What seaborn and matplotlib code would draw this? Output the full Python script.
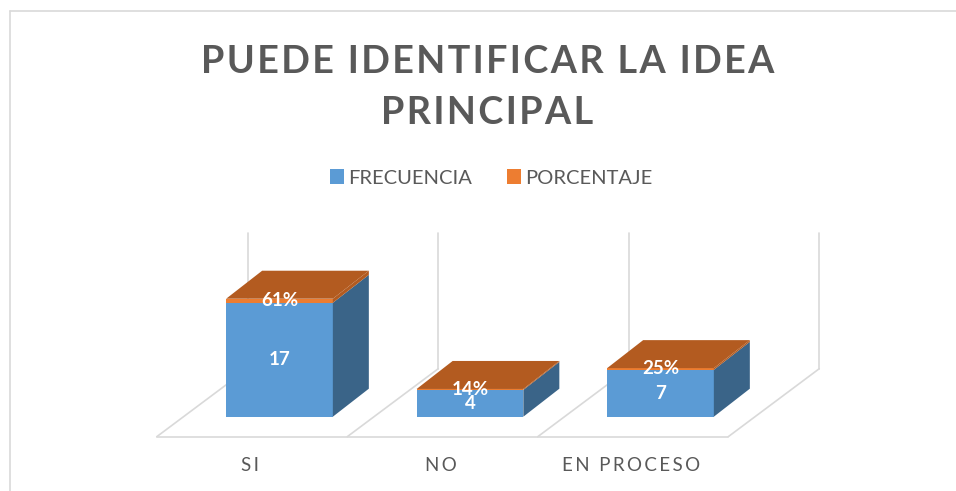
import matplotlib
matplotlib.use('Agg')
import matplotlib.pyplot as plt
import seaborn as sns

categorias = ['SI', 'NO', 'EN PROCESO']
frecuencia = [17, 4, 7]
porcentaje = [0.61, 0.14, 0.25]
etiquetas_pct = ['61%', '14%', '25%']

AZUL, NARANJA = '#5B9BD5', '#ED7D31'
AZUL_LADO, NARANJA_TOPE = '#3A6488', '#B35B20'
GRIS, GRIS_TEXTO = '#D9D9D9', '#595959'

sns.set_theme(style='white')
plt.rcParams['font.family'] = ['Lato', 'DejaVu Sans']


def espaciar(texto, sep='\u200a'):
    # excel chart text has wide letter spacing
    return sep.join(texto)


W, H = 956, 491
fig = plt.figure(figsize=(W / 100, H / 100), dpi=100)
ax = fig.add_axes([184.25 / W, 1 - 416.7 / H, 571.5 / W, 183.7 / H])

sns.barplot(x=categorias, y=frecuencia, color=AZUL, width=0.56, saturation=1, linewidth=0,
            label='FRECUENCIA', ax=ax)
sns.barplot(x=categorias, y=porcentaje, bottom=frecuencia, color=NARANJA, width=0.56,
            saturation=1, linewidth=0, label='PORCENTAJE', ax=ax)
ax.get_legend().remove()

# pixels to data units, for the fake 3D depth
px_x, px_y = 1 / 190.5, 1 / 6.7
ax.set_xlim(-0.5, 2.5)
ax.set_ylim(0, 183.7 * px_y)

# floor and back walls
fx, fy = 91 * px_x, 68 * px_y
y0 = -20 * px_y
x0 = -27.5 * px_x
for i in range(len(categorias) + 1):
    xi = i + x0 - 0.5
    ax.plot([xi, xi + fx], [y0, y0 + fy], color=GRIS, lw=1.2, clip_on=False, zorder=0.5)
    ax.plot([xi + fx, xi + fx], [y0 + fy, ax.get_ylim()[1]], color=GRIS, lw=1.2,
            clip_on=False, zorder=0.5)
ax.plot([x0 - 0.5, x0 + 2.5], [y0, y0], color=GRIS, lw=1.2, clip_on=False, zorder=0.5)

# side and top faces built from the seaborn bars
dx, dy = 36 * px_x, 28 * px_y
for azul, nar in zip(ax.containers[0], ax.containers[1]):
    r = azul.get_x() + azul.get_width()
    l = azul.get_x()
    b1, t1 = azul.get_y(), azul.get_y() + azul.get_height()
    t2 = nar.get_y() + nar.get_height()
    ax.fill([r, r + dx, r + dx, r], [b1, b1 + dy, t1 + dy, t1], color=AZUL_LADO, lw=0,
            clip_on=False, zorder=1)
    ax.fill([r, r + dx, r + dx, r], [t1, t1 + dy, t2 + dy, t2], color=NARANJA_TOPE, lw=0,
            clip_on=False, zorder=1)
    ax.fill([l, l + dx, r + dx, r], [t2, t2 + dy, t2 + dy, t2], color=NARANJA_TOPE, lw=0,
            clip_on=False, zorder=1)

ax.bar_label(ax.containers[0], labels=[str(v) for v in frecuencia], label_type='center',
             color='white', fontweight='bold', fontsize=13.5, zorder=5)
ax.bar_label(ax.containers[1], labels=etiquetas_pct, label_type='center',
             color='white', fontweight='bold', fontsize=13.5, zorder=5)

ax.set_xticks([i + x0 - 0.01 for i in range(len(categorias))])
ax.set_xticklabels([espaciar(c, '\u2009') for c in categorias], color=GRIS_TEXTO, fontsize=13.5)
ax.tick_params(axis='x', length=0, pad=29)
ax.set_yticks([])
ax.set_xlabel('')
ax.set_ylabel('')
sns.despine(ax=ax, left=True, bottom=True)
ax.patch.set_alpha(0)

fig.text(487.5 / W, 1 - 87.5 / H, espaciar('PUEDE IDENTIFICAR LA IDEA') + '\n' + espaciar('PRINCIPAL'),
         ha='center', va='center', color=GRIS_TEXTO, fontsize=27.2, fontweight='bold',
         linespacing=1.62)

fig.legend(handles=[ax.containers[0], ax.containers[1]], loc='center',
           bbox_to_anchor=(491 / W, 1 - 178 / H), ncols=2, frameon=False, fontsize=14.5,
           labelcolor=GRIS_TEXTO, handlelength=0.7, handleheight=0.7, handletextpad=0.2,
           columnspacing=1.75)

# chart border, only top and left show in the crop
fig.add_artist(plt.Line2D([9.5 / W, 1], [1 - 11 / H, 1 - 11 / H], color=GRIS, lw=1.2))
fig.add_artist(plt.Line2D([9.5 / W, 9.5 / W], [0, 1 - 11 / H], color=GRIS, lw=1.2))

fig.savefig('out.png', dpi=100)
